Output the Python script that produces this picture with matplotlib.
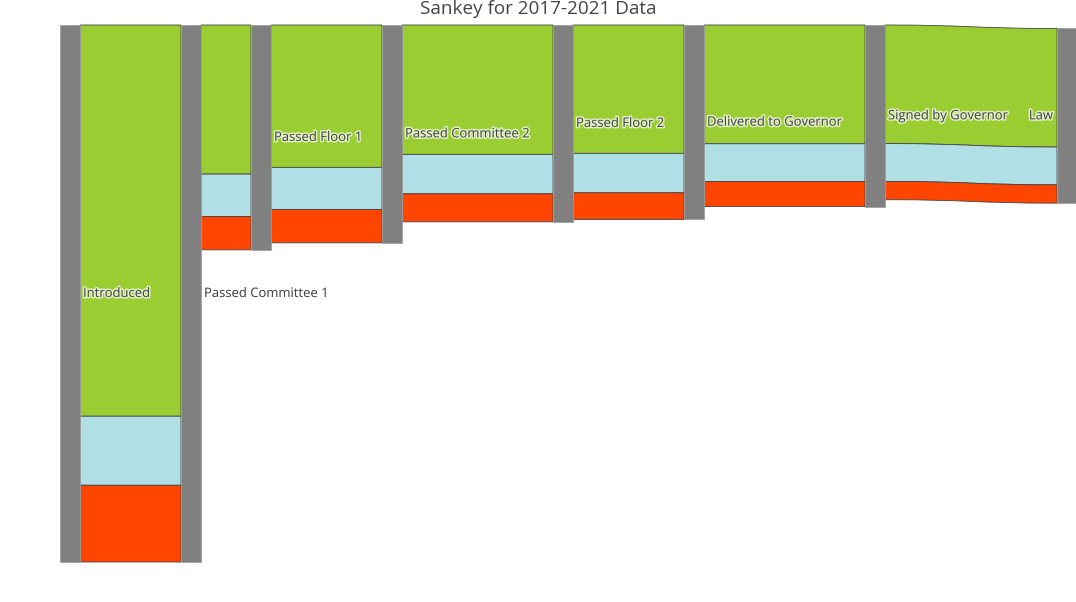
import numpy as np
import matplotlib
matplotlib.use('Agg')
import matplotlib.pyplot as plt
from matplotlib.path import Path
from matplotlib.patches import PathPatch, Rectangle
import matplotlib.patheffects as pe

# stages of a bill, one sankey node each
stages = ["Introduced", "Passed Committee 1", "Passed Floor 1", "Passed Committee 2",
          "Passed Floor 2", "Delivered to Governor", "Signed by Governor", "Law"]

# flow from stage i to stage i+1, three groups of bills
flow_green = [3910, 1490, 1423, 1293, 1283, 1187, 1185]
flow_blue = [690, 423, 420, 394, 394, 378, 378]
flow_red = [767, 334, 334, 280, 266, 250, 183]

title = "Sankey for 2017-2021 Data"

# layout (pixels of the 1076x602 figure)
W, H = 1076, 602
node_left = [60, 181, 251, 382, 553, 684, 865, 1057]
node_w = 20
top, bottom = 25, 562
link_colors = ["#9ACD32", "#B0E0E6", "#FF4500"]
node_color = "#808080"
text_color = "#444444"
plt.rcParams['font.family'] = ['Open Sans', 'DejaVu Sans']

flows = np.array([flow_green, flow_blue, flow_red], dtype=float)
n = len(stages)
out_tot = np.append(flows.sum(axis=0), 0)
in_tot = np.insert(flows.sum(axis=0), 0, 0)
node_val = np.maximum(in_tot, out_tot)
scale = (bottom - top) / node_val.max()
node_h = node_val * scale

node_top = np.full(n, float(top))
# last node is centred on the node that feeds it
node_top[-1] = node_top[-2] + node_h[-2] / 2 - node_h[-1] / 2

fig = plt.figure(figsize=(W / 100, H / 100), dpi=100)
ax = fig.add_axes([0, 0, 1, 1])
ax.set_xlim(0, W)
ax.set_ylim(H, 0)
ax.axis('off')


def link(ax, x0, x1, s0, s1, t0, t1, color):
    xm = (x0 + x1) / 2
    verts = [(x0, s0), (xm, s0), (xm, t0), (x1, t0),
             (x1, t1), (xm, t1), (xm, s1), (x0, s1), (x0, s0)]
    codes = [Path.MOVETO, Path.CURVE4, Path.CURVE4, Path.CURVE4,
             Path.LINETO, Path.CURVE4, Path.CURVE4, Path.CURVE4, Path.CLOSEPOLY]
    ax.add_patch(PathPatch(Path(verts, codes), facecolor=color,
                           edgecolor="#444444", lw=0.6, zorder=1))


for i in range(n - 1):
    x0 = node_left[i] + node_w
    x1 = node_left[i + 1]
    ys = node_top[i]
    yt = node_top[i + 1]
    for k in range(flows.shape[0]):
        h = flows[k, i] * scale
        link(ax, x0, x1, ys, ys + h, yt, yt + h, link_colors[k])
        ys += h
        yt += h

for i in range(n):
    ax.add_patch(Rectangle((node_left[i], node_top[i]), node_w, node_h[i],
                           facecolor=node_color, edgecolor="#a0a0a0", lw=0.6, zorder=2))
    yc = node_top[i] + node_h[i] / 2
    if i < n - 1:
        tx, ha = node_left[i] + node_w + 3, 'left'
    else:
        tx, ha = node_left[i] - 4, 'right'
    ax.text(tx, yc, stages[i], ha=ha, va='center', fontsize=9.4, color=text_color, zorder=3,
            path_effects=[pe.withStroke(linewidth=2.2, foreground='white', alpha=0.7)])

ax.text(W / 2, 13.5, title, ha='center', va='baseline', fontsize=13.6, color=text_color)

fig.savefig("out.png", dpi=100)
